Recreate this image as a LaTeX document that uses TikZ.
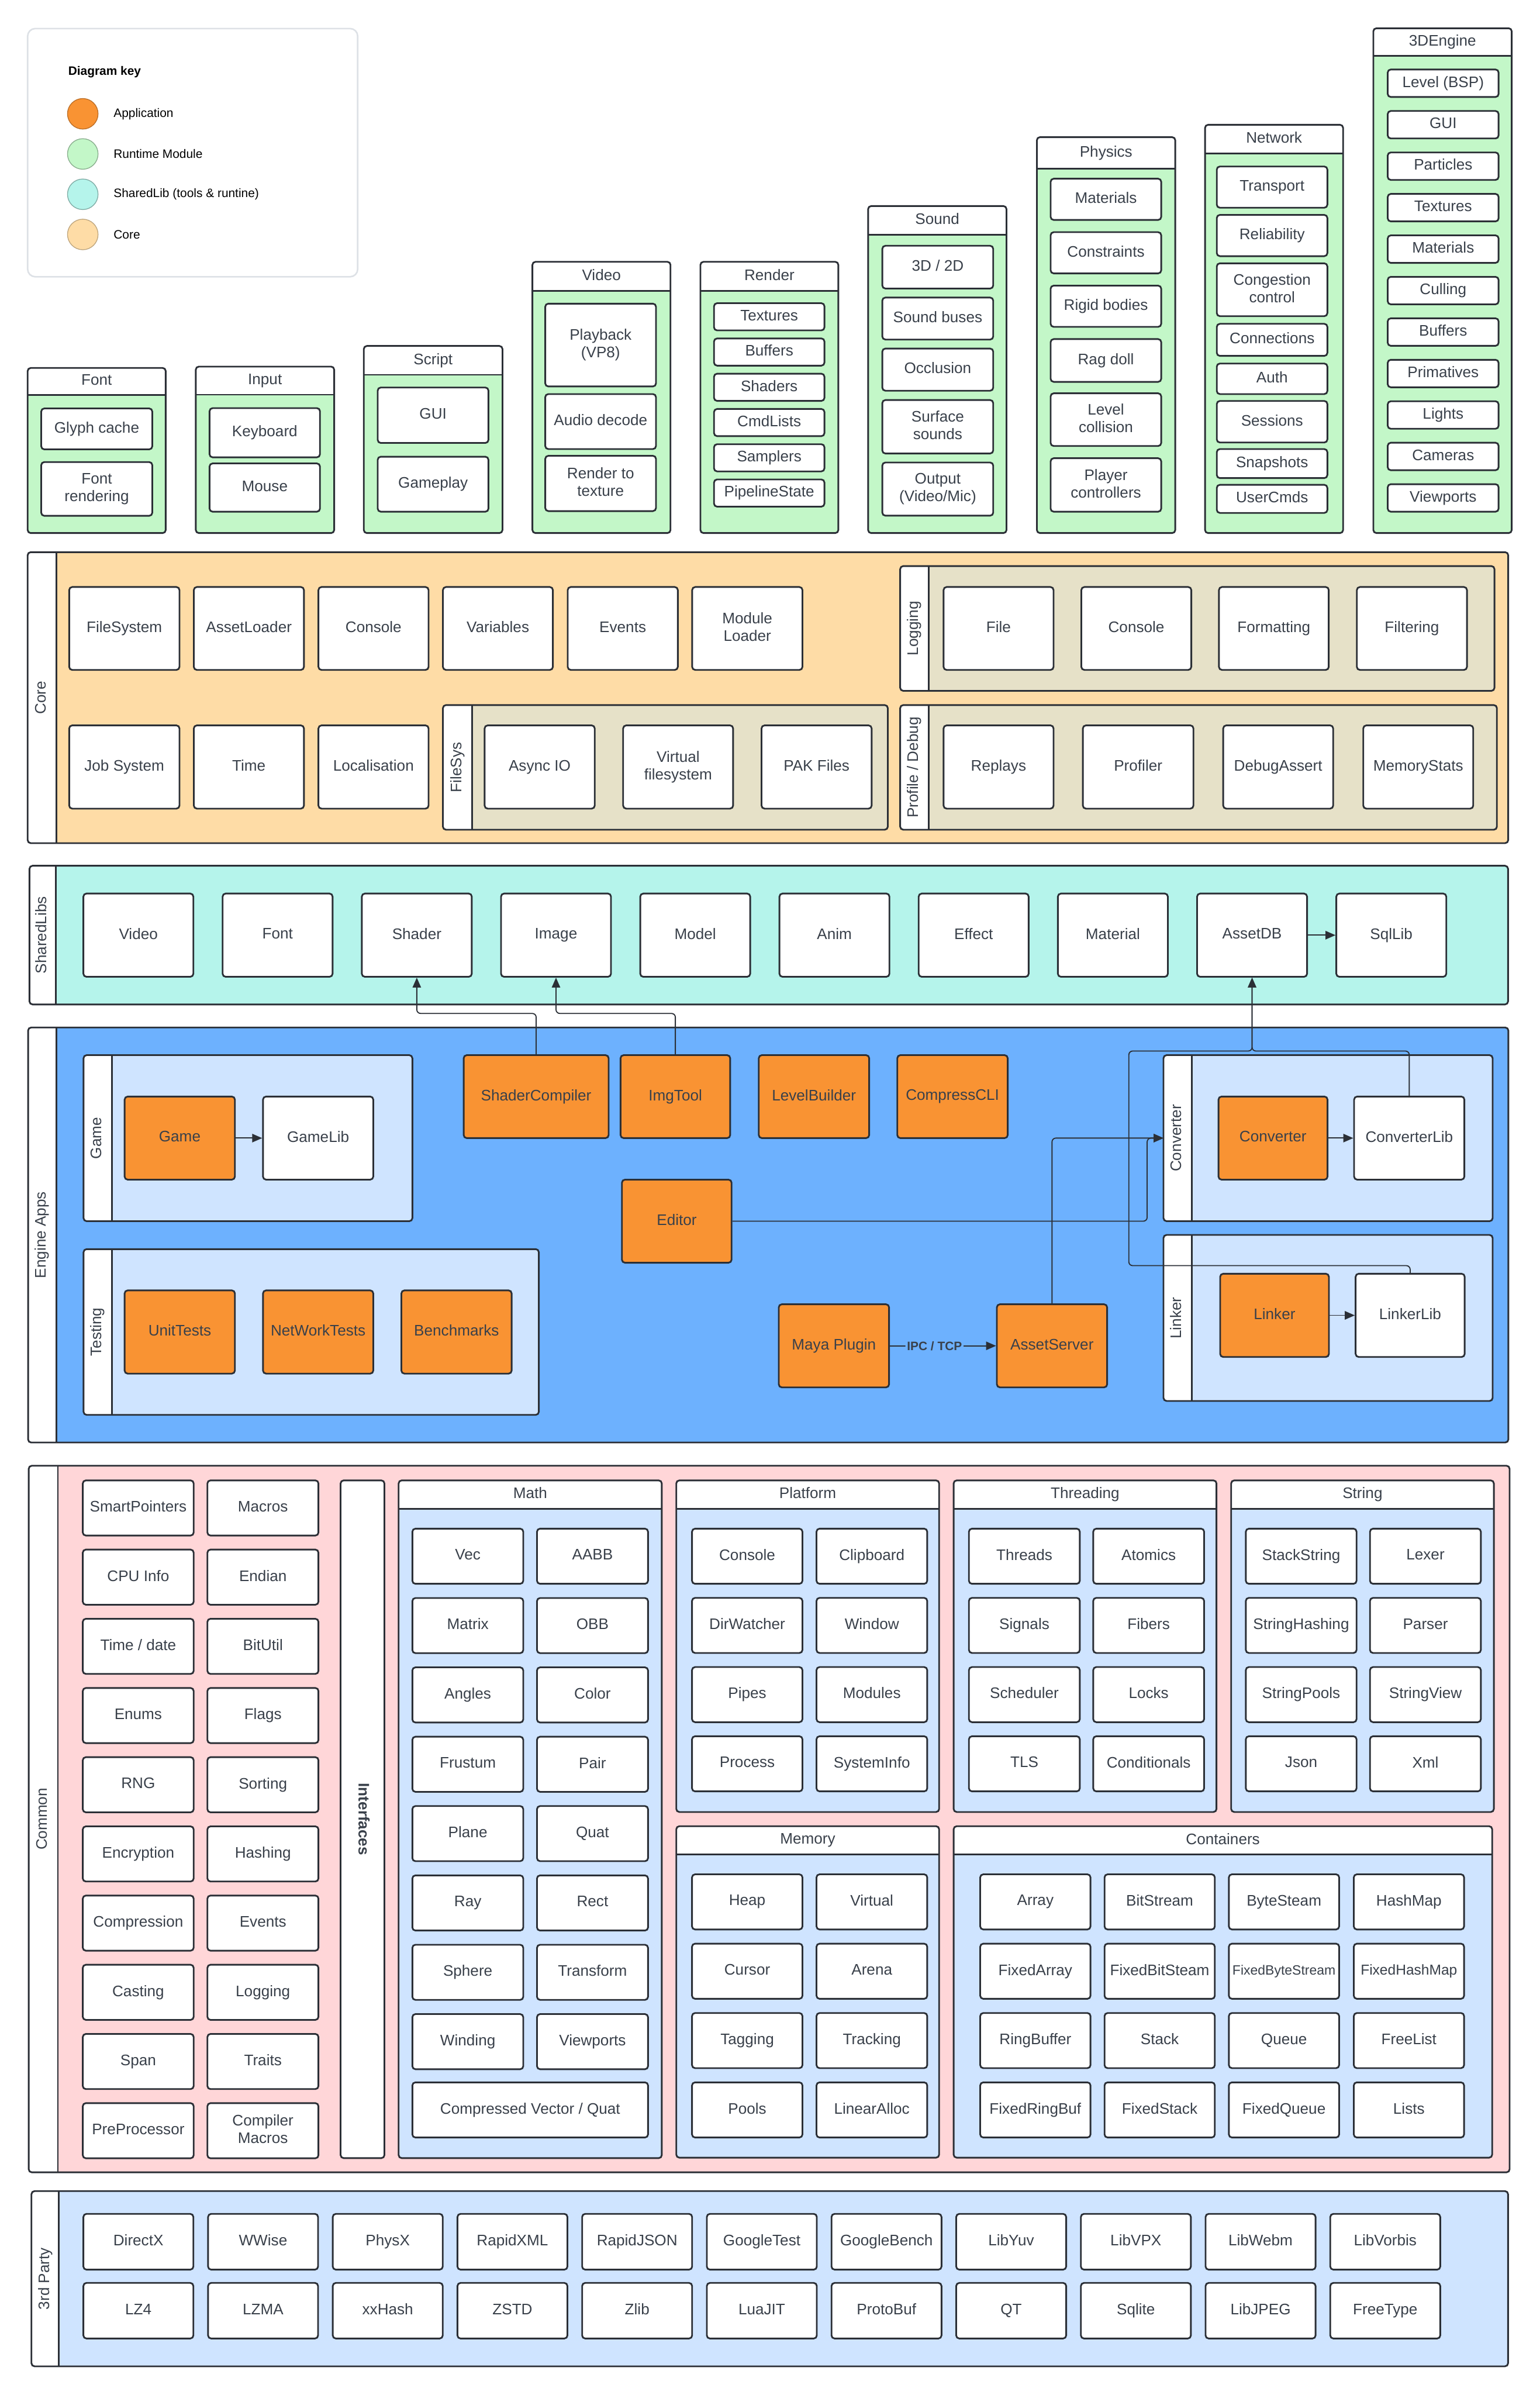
\documentclass[tikz,border=0pt]{standalone}
\usepackage{fontspec}
\setmainfont{Liberation Sans}
\usetikzlibrary{arrows.meta}
\definecolor{txt}{HTML}{39404A}
\definecolor{bord}{HTML}{2B2F36}
\definecolor{rtgreen}{HTML}{C3F7C8}
\definecolor{slteal}{HTML}{B5F4EB}
\definecolor{coreor}{HTML}{FEDCA6}
\definecolor{subtan}{HTML}{E6E1C8}
\definecolor{appblue}{HTML}{6DB1FE}
\definecolor{ltblue}{HTML}{CFE4FF}
\definecolor{apporange}{HTML}{F99333}
\definecolor{compink}{HTML}{FFD6D8}
\definecolor{keyline}{HTML}{DDE1E6}
\tikzset{
  item/.style={draw=bord,line width=1.1pt,fill=white,rounded corners=2pt,text=txt,
    font=\fontsize{10}{11.5}\selectfont,align=center,inner sep=0.5pt,
    execute at begin node={\vphantom{Ag}},execute at end node={\vphantom{Ag}}},
  appitem/.style={fill=apporange},
  grpframe/.style={draw=bord,line width=1.1pt,rounded corners=2pt},
  grpline/.style={draw=bord,line width=1.1pt},
  hdr/.style={text=txt,font=\fontsize{10}{11.5}\selectfont,inner sep=0pt,
    execute at begin node={\vphantom{Ag}}},
  striplbl/.style={rotate=90,text=txt,font=\fontsize{10}{11.5}\selectfont,inner sep=0pt,
    execute at begin node={\vphantom{Ag}}},
  conn/.style={draw=bord,line width=0.7pt,rounded corners=2.5pt},
  arr/.style={conn,-{Triangle[length=6.5pt,width=5.5pt]}},
  keylbl/.style={anchor=west,text=black,font=\fontsize{8}{9}\selectfont,inner sep=0pt},
  keydot/.style={circle,minimum size=20pt,inner sep=0pt,line width=0.5pt},
  ipc/.style={fill=appblue,text=txt,font=\bfseries\fontsize{8}{9}\selectfont,inner sep=1pt}
}
% box from corners: [style]{name}{x1}{y1}{x2}{y2}{text}
\newcommand\mybox[7][]{%
  \pgfmathsetmacro\mbcx{((#3)+(#5))/2}%
  \pgfmathsetmacro\mbcy{((#4)+(#6))/2}%
  \pgfmathsetmacro\mbw{(#5)-(#3)}%
  \pgfmathsetmacro\mbh{(#6)-(#4)}%
  \node[item,minimum width=\mbw pt,minimum height=\mbh pt,#1] (#2) at (\mbcx,\mbcy) {#7};%
}
% group with header on top: {name}{x1}{ytop}{yhdr}{x2}{ybot}{fill}{title}
\newcommand\hgroup[8]{%
  \fill[white,rounded corners=2pt] (#2,#3) rectangle (#5,#6);
  \fill[#7,rounded corners=2pt] (#2,#4) rectangle (#5,#6);
  \fill[#7] (#2,#4) rectangle (#5,#4+4);
  \draw[grpframe] (#2,#3) rectangle (#5,#6);
  \draw[grpline] (#2,#4) -- (#5,#4);
  \node[hdr] (#1) at ({(#2+#5)/2},{(#3+#4)/2}) {#8};
}
% group with strip on left: {name}{x1}{y1}{xs}{x2}{y2}{fill}{label}
\newcommand\vgroup[8]{%
  \fill[white,rounded corners=2pt] (#2,#3) rectangle (#5,#6);
  \fill[#7,rounded corners=2pt] (#4,#3) rectangle (#5,#6);
  \fill[#7] (#4,#3) rectangle (#4+4,#6);
  \draw[grpframe] (#2,#3) rectangle (#5,#6);
  \draw[grpline] (#4,#3) -- (#4,#6);
  \node[striplbl] (#1) at ({(#2+#4)/2},{(#3+#6)/2}) {#8};
}
\begin{document}
\begin{tikzpicture}[x=1pt,y=-1pt]
\useasboundingbox (0,0) rectangle (1008,1568);
\fill[white] (0,0) rectangle (1008,1568);

% ---------- Key ----------
\draw[draw=keyline,line width=1pt,rounded corners=5pt,fill=white] (18.1,18.7) rectangle (234.2,181.2);
\node[anchor=west,text=black,font=\bfseries\fontsize{8}{9}\selectfont,inner sep=0pt] (keytitle) at (44.5,47.3) {Diagram key};
\node[keydot,fill=apporange,draw=apporange!75!black] (kapp) at (54.2,74.5) {};
\node[keylbl] (kappl) at (74.2,74.5) {Application};
\node[keydot,fill=rtgreen,draw=rtgreen!70!black] (krt) at (54.2,100.8) {};
\node[keylbl] (krtl) at (74.2,100.8) {Runtime Module};
\node[keydot,fill=slteal,draw=slteal!70!black] (ksl) at (54.2,127.2) {};
\node[keylbl] (ksll) at (74.2,127.2) {SharedLib (tools \& runtine)};
\node[keydot,fill=coreor,draw=coreor!75!black] (kcore) at (54.2,153.5) {};
\node[keylbl] (kcorel) at (74.2,153.5) {Core};

% ---------- Runtime modules ----------
\hgroup{hFont}{18.1}{240.9}{258.6}{108.5}{349}{rtgreen}{Font}
\mybox{fGlyph}{27}{267.4}{99.7}{294.2}{Glyph cache}
\mybox{fRend}{27}{302.5}{99.7}{337.7}{Font\\rendering}

\hgroup{hInput}{128.2}{240}{258.4}{218.8}{349}{rtgreen}{Input}
\mybox{iKey}{137.2}{267.2}{209.5}{299.4}{Keyboard}
\mybox{iMouse}{137.2}{303.4}{209.5}{335}{Mouse}

\hgroup{hScript}{238.2}{226.5}{245.4}{329}{349}{rtgreen}{Script}
\mybox{sGUI}{247.3}{253.7}{319.8}{290}{GUI}
\mybox{sGameplay}{247.3}{299}{319.8}{335}{Gameplay}

\hgroup{hVideo}{348.6}{171.4}{190.4}{439}{349}{rtgreen}{Video}
\mybox{vPlay}{357}{198.8}{429.5}{253}{Playback\\(VP8)}
\mybox{vAudio}{357}{258}{429.5}{294}{Audio decode}
\mybox{vRtt}{357}{298.4}{429.5}{334.6}{Render to\\texture}

\hgroup{hRender}{458.6}{171.4}{190.4}{548.9}{349}{rtgreen}{Render}
\foreach \a [count=\i from 0] in {Textures,Buffers,Shaders,CmdLists,Samplers,PipelineState}{
  \pgfmathsetmacro\yt{198.5+\i*23.08}
  \mybox{rn\i}{467.5}{\yt}{539.8}{\yt+17.8}{\a}
}

\hgroup{hSound}{568.4}{134.9}{153.7}{659}{349}{rtgreen}{Sound}
\mybox{sd1}{577.7}{160.9}{650.3}{188.9}{3D / 2D}
\mybox{sd2}{577.7}{194.8}{650.3}{222.3}{Sound buses}
\mybox{sd3}{577.7}{228.2}{650.3}{255.8}{Occlusion}
\mybox{sd4}{577.7}{261.9}{650.3}{296.9}{Surface\\sounds}
\mybox{sd5}{577.7}{302.8}{650.3}{337.6}{Output\\(Video/Mic)}

\hgroup{hPhysics}{678.9}{89.8}{110.5}{769.5}{349}{rtgreen}{Physics}
\mybox{ph1}{687.9}{117}{760.3}{144}{Materials}
\mybox{ph2}{687.9}{152}{760.3}{179}{Constraints}
\mybox{ph3}{687.9}{187}{760.3}{214}{Rigid bodies}
\mybox{ph4}{687.9}{222}{760.3}{250}{Rag doll}
\mybox{ph5}{687.9}{257.5}{760.3}{292}{Level\\collision}
\mybox{ph6}{687.9}{300}{760.3}{335}{Player\\controllers}

\hgroup{hNetwork}{789}{81.7}{100.6}{879.4}{349}{rtgreen}{Network}
\mybox{nw1}{796.7}{109}{869.1}{136}{Transport}
\mybox{nw2}{796.7}{140.7}{869.1}{167.7}{Reliability}
\mybox{nw3}{796.7}{172.4}{869.1}{207}{Congestion\\control}
\mybox{nw4}{796.7}{212}{869.1}{233}{Connections}
\mybox{nw5}{796.7}{238}{869.1}{258}{Auth}
\mybox{nw6}{796.7}{262.5}{869.1}{289.7}{Sessions}
\mybox{nw7}{796.7}{294}{869.1}{313}{Snapshots}
\mybox{nw8}{796.7}{317.4}{869.1}{335.8}{UserCmds}

\hgroup{h3D}{899.2}{18.5}{36.7}{989.8}{349}{rtgreen}{3DEngine}
\foreach \a [count=\i from 0] in {Level (BSP),GUI,Particles,Textures,Materials,Culling,Buffers,Primatives,Lights,Cameras,Viewports}{
  \pgfmathsetmacro\yt{45.5+\i*27.15}
  \mybox{en\i}{908.6}{\yt}{981.2}{\yt+18}{\a}
}

% ---------- Core ----------
\vgroup{lCore}{18.1}{361.5}{37}{987.5}{552}{coreor}{Core}
\mybox{cFileSystem}{45.3}{384.3}{117.5}{438.6}{FileSystem}
\mybox{cAssetLoader}{126.9}{384.3}{199}{438.6}{AssetLoader}
\mybox{cConsole}{208.5}{384.3}{280.6}{438.6}{Console}
\mybox{cVariables}{290}{384.3}{362}{438.6}{Variables}
\mybox{cEvents}{371.7}{384.3}{443.8}{438.6}{Events}
\mybox{cModule}{453.2}{384.3}{525.4}{438.6}{Module\\Loader}
\mybox{cJob}{45.3}{474.9}{117.5}{529.4}{Job System}
\mybox{cTime}{126.9}{474.9}{199}{529.4}{Time}
\mybox{cLocal}{208.5}{474.9}{280.6}{529.4}{Localisation}
\vgroup{lFileSys}{290}{461.6}{309}{581.3}{543.2}{subtan}{FileSys}
\mybox{cAsync}{317.3}{474.9}{389.4}{529.4}{Async IO}
\mybox{cVirtual}{408}{474.9}{480}{529.4}{Virtual\\filesystem}
\mybox{cPak}{498.6}{474.9}{570.7}{529.4}{PAK Files}
\vgroup{lLogging}{589.4}{370.6}{608}{978.5}{452.3}{subtan}{Logging}
\mybox{cFile}{617.8}{384.3}{689.8}{438.6}{File}
\mybox{cLogConsole}{708}{384.3}{780}{438.6}{Console}
\mybox{cFormatting}{798.1}{384.3}{870}{438.6}{Formatting}
\mybox{cFiltering}{888.4}{384.3}{960.5}{438.6}{Filtering}
\vgroup{lProfile}{589.4}{461.6}{608}{980.1}{543.2}{subtan}{Profile / Debug}
\mybox{cReplays}{617.8}{474.9}{689.8}{529.4}{Replays}
\mybox{cProfiler}{709}{474.9}{781.4}{529.4}{Profiler}
\mybox{cDebugAssert}{800.9}{474.9}{872.9}{529.4}{DebugAssert}
\mybox{cMemStats}{892.6}{474.9}{964.6}{529.4}{MemoryStats}

% ---------- SharedLibs ----------
\vgroup{lShared}{19.3}{566.8}{36.6}{987.4}{657.6}{slteal}{SharedLibs}
\foreach \a [count=\i from 0] in {Video,Font,Shader,Image,Model,Anim,Effect,Material,AssetDB,SqlLib}{
  \pgfmathsetmacro\xl{54.6+\i*91.15}
  \mybox{sl\i}{\xl}{585}{\xl+72}{639.5}{\a}
}

% ---------- Engine Apps ----------
\vgroup{lApps}{18.4}{672.7}{36.9}{987.6}{944.4}{appblue}{Engine Apps}
\vgroup{lGame}{54.7}{690.8}{73.2}{270}{799.5}{ltblue}{Game}
\mybox[appitem]{game}{81.6}{717.9}{153.8}{772.3}{Game}
\mybox{gamelib}{172.2}{717.9}{244.4}{772.3}{GameLib}
\vgroup{lTesting}{54.7}{817.8}{73.2}{352.8}{926.3}{ltblue}{Testing}
\mybox[appitem]{unittests}{81.6}{844.8}{153.8}{899.3}{UnitTests}
\mybox[appitem]{nettests}{172.2}{844.8}{244.4}{899.3}{NetWorkTests}
\mybox[appitem]{benchmarks}{262.8}{844.8}{335}{899.3}{Benchmarks}
\mybox[appitem]{shadercomp}{303.6}{690.8}{398.5}{745.1}{ShaderCompiler}
\mybox[appitem]{imgtool}{406.3}{690.8}{478.1}{745.1}{ImgTool}
\mybox[appitem]{levelbuilder}{496.8}{690.8}{569.1}{745.1}{LevelBuilder}
\mybox[appitem]{compresscli}{587.5}{690.8}{659.8}{745.1}{CompressCLI}
\mybox[appitem]{editor}{407.2}{772.3}{479}{826.7}{Editor}
\mybox[appitem]{maya}{509.9}{853.9}{582.1}{908.3}{Maya Plugin}
\mybox[appitem]{assetserver}{652.7}{853.9}{724.9}{908.3}{AssetServer}
\vgroup{lConverter}{761.8}{690.8}{780.2}{977.3}{799.5}{ltblue}{Converter}
\mybox[appitem]{converter}{797.8}{717.9}{869.2}{772.3}{Converter}
\mybox{converterlib}{886.6}{717.9}{958.8}{772.3}{ConverterLib}
\vgroup{lLinker}{761.8}{808.5}{780.2}{977.3}{917.2}{ltblue}{Linker}
\mybox[appitem]{linker}{798.9}{833.9}{870.1}{888.4}{Linker}
\mybox{linkerlib}{887.6}{833.9}{959}{888.4}{LinkerLib}

% ---------- Common ----------
\vgroup{lCommon}{18.8}{959.6}{37.9}{988.4}{1422.2}{compink}{Common}
\foreach \a/\b [count=\i from 0] in {SmartPointers/Macros,{CPU Info}/Endian,{Time / date}/BitUtil,Enums/Flags,RNG/Sorting,Encryption/Hashing,Compression/Events,Casting/Logging,Span/Traits,PreProcessor/{Compiler\\Macros}}{
  \pgfmathsetmacro\yt{969.2+\i*45.3}
  \mybox{cma\i}{54.2}{\yt}{126.8}{\yt+36.1}{\a}
  \mybox{cmb\i}{135.8}{\yt}{208.5}{\yt+36.1}{\b}
}
\node[item,rotate=-90,minimum width=443.7pt,minimum height=28.7pt,font=\bfseries\fontsize{10}{11.5}\selectfont] (interfaces) at (237.35,1191.05) {Interfaces};

\hgroup{hMath}{261}{969.2}{987.9}{433.3}{1412.9}{ltblue}{Math}
\foreach \a/\b [count=\i from 0] in {Vec/AABB,Matrix/OBB,Angles/Color,Frustum/Pair,Plane/Quat,Ray/Rect,Sphere/Transform,Winding/Viewports}{
  \pgfmathsetmacro\yt{1000.8+\i*45.4}
  \mybox{ma\i}{270}{\yt}{342.6}{\yt+36.1}{\a}
  \mybox{mb\i}{351.6}{\yt}{424.3}{\yt+36.1}{\b}
}
\mybox{mcomp}{270}{1363.3}{424.3}{1399.4}{Compressed Vector / Quat}

\hgroup{hPlatform}{442.8}{969.2}{987.9}{614.9}{1186.3}{ltblue}{Platform}
\foreach \a/\b [count=\i from 0] in {Console/Clipboard,DirWatcher/Window,Pipes/Modules,Process/SystemInfo}{
  \pgfmathsetmacro\yt{1000.8+\i*45.3}
  \mybox{pa\i}{453.1}{\yt}{525.4}{\yt+36.1}{\a}
  \mybox{pb\i}{534.6}{\yt}{607.1}{\yt+36.1}{\b}
}
\hgroup{hThreading}{624.4}{969.2}{987.9}{796.5}{1186.3}{ltblue}{Threading}
\foreach \a/\b [count=\i from 0] in {Threads/Atomics,Signals/Fibers,Scheduler/Locks,TLS/Conditionals}{
  \pgfmathsetmacro\yt{1000.8+\i*45.3}
  \mybox{ta\i}{634.4}{\yt}{707}{\yt+36.1}{\a}
  \mybox{tb\i}{715.8}{\yt}{788.4}{\yt+36.1}{\b}
}
\hgroup{hString}{806.1}{969.2}{987.9}{978.1}{1186.3}{ltblue}{String}
\foreach \a/\b [count=\i from 0] in {StackString/Lexer,StringHashing/Parser,StringPools/StringView,Json/Xml}{
  \pgfmathsetmacro\yt{1000.8+\i*45.3}
  \mybox{sa\i}{815.7}{\yt}{888.2}{\yt+36.1}{\a}
  \mybox{sb\i}{897}{\yt}{969.6}{\yt+36.1}{\b}
}
\hgroup{hMemory}{442.8}{1195.6}{1214.2}{614.9}{1412.6}{ltblue}{Memory}
\foreach \a/\b [count=\i from 0] in {Heap/Virtual,Cursor/Arena,Tagging/Tracking,Pools/LinearAlloc}{
  \pgfmathsetmacro\yt{1227.1+\i*45.4}
  \mybox{mma\i}{453.1}{\yt}{525.4}{\yt+36.1}{\a}
  \mybox{mmb\i}{534.6}{\yt}{607.1}{\yt+36.1}{\b}
}
\hgroup{hContainers}{624.4}{1195.6}{1214.2}{977}{1412.6}{ltblue}{Containers}
\foreach \a/\b/\c/\d [count=\i from 0] in {Array/BitStream/ByteSteam/HashMap,FixedArray/FixedBitSteam/{\fontsize{8.8}{10}\selectfont FixedByteStream}/{\fontsize{9.4}{10}\selectfont FixedHashMap},RingBuffer/Stack/Queue/FreeList,FixedRingBuf/FixedStack/FixedQueue/Lists}{
  \pgfmathsetmacro\yt{1227.1+\i*45.4}
  \mybox{ka\i}{641.8}{\yt}{714}{\yt+36.1}{\a}
  \mybox{kb\i}{723.2}{\yt}{795.4}{\yt+36.1}{\b}
  \mybox{kc\i}{804.6}{\yt}{876.8}{\yt+36.1}{\c}
  \mybox{kd\i}{886.4}{\yt}{958.6}{\yt+36.1}{\d}
}

% ---------- 3rd Party ----------
\vgroup{lThird}{20.6}{1434.5}{38.6}{987.4}{1549.2}{ltblue}{3rd Party}
\foreach \a/\b [count=\i from 0] in {DirectX/LZ4,WWise/LZMA,PhysX/xxHash,RapidXML/ZSTD,RapidJSON/Zlib,GoogleTest/LuaJIT,GoogleBench/ProtoBuf,LibYuv/QT,LibVPX/Sqlite,LibWebm/LibJPEG,LibVorbis/FreeType}{
  \pgfmathsetmacro\xl{54.6+\i*81.64}
  \mybox{tpa\i}{\xl}{1449.4}{\xl+72}{1485.9}{\a}
  \mybox{tpb\i}{\xl}{1494.6}{\xl+72}{1531}{\b}
}

% ---------- Connectors ----------
\coordinate (shbus) at (0,663.5);
\coordinate (dbbus) at (0,688.1);
\coordinate (convin) at (761.8,745.1);
\coordinate (edbend) at (751.1,772);
\coordinate (lkbend) at (739.1,828.6);
\draw[arr] (sl8) -- (sl9);
\draw[arr] (shadercomp.north) |- (sl2.south |- shbus) -- (sl2.south);
\draw[arr] (imgtool.north) |- (sl3.south |- shbus) -- (sl3.south);
\draw[arr] (game) -- (gamelib);
\draw[arr] (converter) -- (converterlib);
\draw[arr] (linker) -- (linkerlib);
\draw[arr] (maya) -- node[ipc,pos=0.42] (ipclbl) {IPC / TCP} (assetserver);
\draw[arr] (assetserver.north) |- (convin);
\draw[arr] (editor.east) -| (edbend) |- (convin);
\draw[arr] (converterlib.north) |- (sl8.south |- dbbus) -- (sl8.south);
\draw[arr] (linkerlib.north) |- (lkbend) |- (sl8.south |- dbbus) -- (sl8.south);
\end{tikzpicture}
\end{document}
